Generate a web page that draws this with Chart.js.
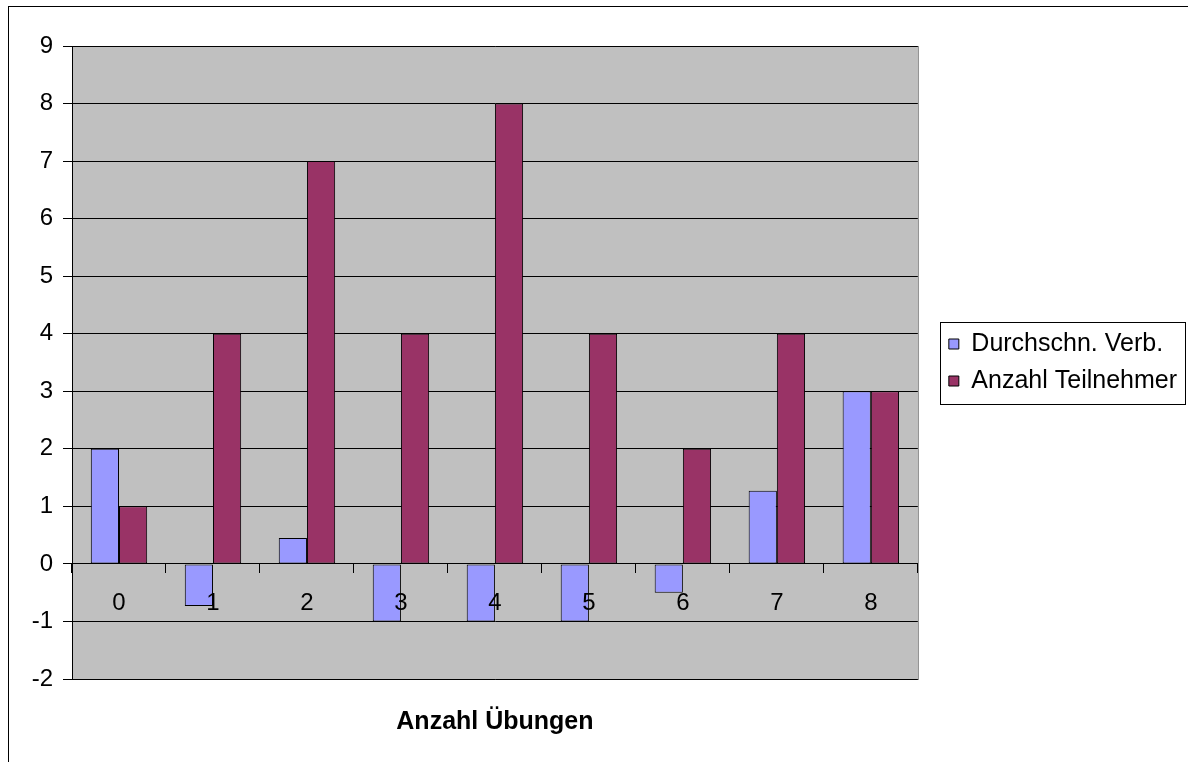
<!DOCTYPE html>
<html>
<head>
<meta charset="utf-8">
<script src="https://cdn.jsdelivr.net/npm/chart.js@4"></script>
<style>
  body { margin: 0; background: #fff; }
  #frame { position: absolute; left: 8px; top: 6px; width: 1200px; height: 780px; border: 1px solid #000; }
  #wrap { position: absolute; left: 0; top: 0; width: 1188px; height: 762px; }
</style>
</head>
<body>
<div id="frame"></div>
<div id="wrap"><canvas id="myChart"></canvas></div>
<script>
'use strict';
const categories = ['0', '1', '2', '3', '4', '5', '6', '7', '8'];
const avgValues = [2, -0.73, 0.45, -1, -1, -1, -0.5, 1.27, 3];
const participants = [1, 4, 7, 4, 8, 4, 2, 4, 3];
const yMin = -2;
const yMax = 9;

const font = 'Liberation Sans, Arial, sans-serif';
const legendShift = 19;

// grey plot area + legend frame
const excelLook = {
  id: 'excelLook',
  afterLayout(chart) {
    // push the legend entries a bit to the right, like in the original
    chart.legend.left += legendShift;
    chart.legend.right += legendShift;
  },
  beforeDraw(chart) {
    const a = chart.chartArea;
    const ctx = chart.ctx;
    ctx.save();
    ctx.fillStyle = '#c0c0c0';
    ctx.fillRect(a.left, a.top, a.right - a.left, a.bottom - a.top);
    ctx.strokeStyle = '#808080';
    ctx.lineWidth = 1;
    ctx.strokeRect(a.left + 0.5, a.top + 0.5, a.right - a.left, a.bottom - a.top);
    ctx.restore();
  },
  afterDraw(chart) {
    const boxes = chart.legend.legendHitBoxes;
    if (!boxes || !boxes.length) return;
    let l = Infinity, t = Infinity, r = -Infinity, b = -Infinity;
    for (let i = 0; i < boxes.length; i++) {
      l = Math.min(l, boxes[i].left);
      t = Math.min(t, boxes[i].top);
      r = Math.max(r, boxes[i].left + boxes[i].width);
      b = Math.max(b, boxes[i].top + boxes[i].height);
    }
    const ctx = chart.ctx;
    ctx.save();
    ctx.strokeStyle = '#000';
    ctx.lineWidth = 1;
    const x0 = Math.round(l - 9), y0 = Math.round(t - 10);
    ctx.strokeRect(x0 + 0.5, y0 + 0.5, Math.round(r + 8) - x0, Math.round(b + 10) - y0);
    ctx.restore();
  }
};

const data = {
  labels: categories,
  datasets: [
    {
      label: 'Durchschn. Verb.',
      data: avgValues,
      backgroundColor: '#9999ff',
      borderColor: '#000',
      borderWidth: 1,
      borderSkipped: false,
    },
    {
      label: 'Anzahl Teilnehmer',
      data: participants,
      backgroundColor: '#993366',
      borderColor: '#000',
      borderWidth: 1,
      borderSkipped: false,
    },
  ],
};

const config = {
  type: 'bar',
  data: data,
  plugins: [excelLook],
  options: {
    responsive: true,
    maintainAspectRatio: false,
    animation: false,
    categoryPercentage: 0.6,
    barPercentage: 1,
    layout: { padding: { left: 20, top: 46, right: 20, bottom: 0 } },
    scales: {
      x: {
        position: { y: 0 },
        grid: { display: true, drawOnChartArea: false, offset: true, tickLength: 9, color: '#000' },
        border: { display: true, color: '#000', z: 1 },
        ticks: { color: '#000', font: { family: font, size: 24 }, padding: 16, z: 1 },
      },
      y: {
        min: yMin,
        max: yMax,
        afterFit(scale) { scale.width = 52; },
        grid: { color: '#000', tickLength: 9 },
        border: { color: '#000' },
        ticks: { stepSize: 1, color: '#000', font: { family: font, size: 24 }, padding: 10 },
      },
    },
    plugins: {
      legend: {
        position: 'right',
        fullSize: false,
        labels: {
          color: '#000',
          font: { family: font, size: 25 },
          boxWidth: 10,
          boxHeight: 10,
          padding: 12,
          useBorderRadius: false,
        },
      },
      title: {
        display: true,
        text: 'Anzahl Übungen',
        position: 'bottom',
        fullSize: false,
        color: '#000',
        font: { family: font, size: 25, weight: 'bold' },
        padding: { top: 28, bottom: 25 },
      },
      tooltip: { enabled: false },
    },
  },
};

const canvasChart = document.getElementById('myChart');
const myChart = new Chart(canvasChart, config);
</script>
</body>
</html>
